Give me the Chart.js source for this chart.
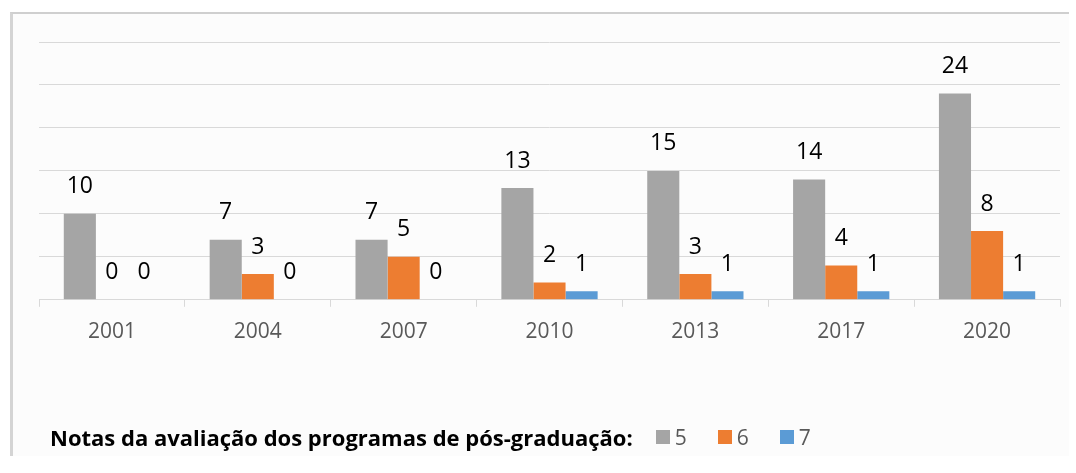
<!DOCTYPE html>
<html>
<head>
<meta charset="utf-8">
<script src="https://cdn.jsdelivr.net/npm/chart.js@4"></script>
<style>
    body { margin: 0; background: #ffffff; font-family: "Open Sans", sans-serif; }
    #frame {
        position: absolute; left: 10px; top: 12px; width: 1056px; height: 442px;
        background: #fcfcfc;
        border-top: 2px solid #cfcfcf; border-left: 3px solid #d4d4d4;
    }
    #wrap { position: absolute; left: 0; top: 0; width: 1076px; height: 473px; }
    #legend {
        position: absolute; left: 50px; top: 423px; height: 28px;
        display: flex; align-items: center; white-space: nowrap;
    }
    #legend .titulo { font-weight: bold; font-size: 22px; color: #000; margin-right: 23px; }
    #legend .item { display: flex; align-items: center; margin-right: 31px; font-size: 21px; color: #595959; }
    #legend .cuadro { width: 14px; height: 14px; margin-right: 5px; }
</style>
</head>
<body>
<div id="frame"></div>
<div id="wrap"><canvas id="graficoNotas" width="1076" height="473"></canvas></div>
<div id="legend"></div>

<script>
    const anos = ['2001', '2004', '2007', '2010', '2013', '2017', '2020'];
    const nota5 = [10, 7, 7, 13, 15, 14, 24];
    const nota6 = [0, 3, 5, 2, 3, 4, 8];
    const nota7 = [0, 0, 0, 1, 1, 1, 1];
    const tituloLeyenda = 'Notas da avaliação dos programas de pós-graduação:';

    // etiquetas de valor encima de cada barra
    const etiquetas = {
        id: 'etiquetas',
        afterDatasetsDraw(chart) {
            const ctx = chart.ctx;
            ctx.save();
            ctx.font = '23px "Open Sans"';
            ctx.fillStyle = '#000';
            ctx.textAlign = 'center';
            ctx.textBaseline = 'middle';
            chart.data.datasets.forEach((ds, i) => {
                chart.getDatasetMeta(i).data.forEach((bar, j) => {
                    ctx.fillText(ds.data[j], bar.x, bar.y - 27);
                });
            });
            ctx.restore();
        }
    };

    const ctx = document.getElementById('graficoNotas').getContext('2d');
    const grafico = new Chart(ctx, {
        type: 'bar',
        data: {
            labels: anos,
            datasets: [
                { label: '5', data: nota5, backgroundColor: '#a5a5a5' },
                { label: '6', data: nota6, backgroundColor: '#ed7d31' },
                { label: '7', data: nota7, backgroundColor: '#5b9bd5' }
            ]
        },
        options: {
            responsive: false,
            animation: false,
            layout: { padding: { left: 39, right: 16, top: 42, bottom: 115 } },
            datasets: { bar: { categoryPercentage: 0.66, barPercentage: 1.0 } },
            plugins: { legend: { display: false }, tooltip: { enabled: false } },
            scales: {
                x: {
                    grid: { offset: true, drawOnChartArea: false, drawTicks: true, tickLength: 7, color: '#d9d9d9' },
                    border: { display: true, color: '#d9d9d9' },
                    ticks: { color: '#595959', font: { family: 'Open Sans', size: 21 }, padding: 13 }
                },
                y: {
                    min: 0, max: 30,
                    ticks: { display: false, stepSize: 5 },
                    grid: { color: '#d9d9d9', drawTicks: false },
                    border: { display: false }
                }
            }
        },
        plugins: [etiquetas]
    });

    // leyenda en html, con el titulo en la misma linea
    const leyenda = document.getElementById('legend');
    const t = document.createElement('span');
    t.className = 'titulo';
    t.textContent = tituloLeyenda;
    leyenda.appendChild(t);
    grafico.data.datasets.forEach(ds => {
        const item = document.createElement('span');
        item.className = 'item';
        item.innerHTML = '<span class="cuadro" style="background:' + ds.backgroundColor + '"></span>' + ds.label;
        leyenda.appendChild(item);
    });
</script>
</body>
</html>
